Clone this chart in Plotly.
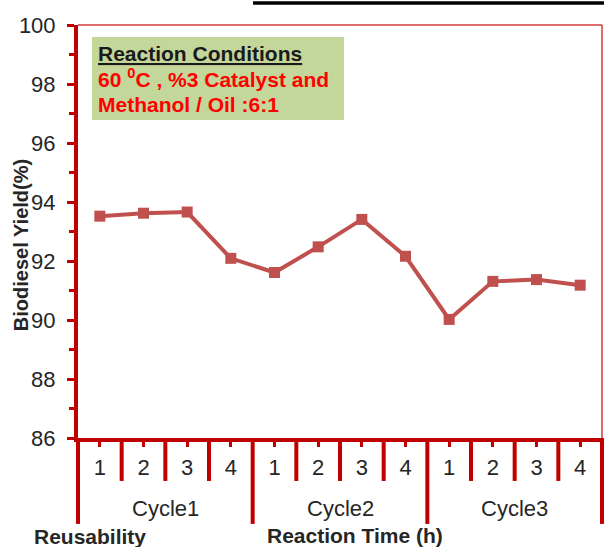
import plotly.graph_objects as go

# Data
cycles = ["Cycle1", "Cycle2", "Cycle3"]
hours = ["1", "2", "3", "4"]
yield_pct = [93.52, 93.62, 93.66, 92.09, 91.61, 92.48, 93.41, 92.16, 90.02, 91.31, 91.37, 91.18]

y_ticks = [86, 88, 90, 92, 94, 96, 98, 100]

AXIS_RED = "#C00000"
SERIES_RED = "#C0504D"
TEXT = "#262626"
FONT = "Liberation Sans, Arial, sans-serif"

n_hours = len(hours)
n_points = len(cycles) * n_hours
x_idx = list(range(n_points))
x_text = [hours[i % n_hours] for i in x_idx]

fig = go.Figure()

fig.add_trace(
    go.Scatter(
        x=x_idx,
        y=yield_pct,
        mode="lines+markers",
        line=dict(color=SERIES_RED, width=4),
        marker=dict(symbol="square", size=11, color=SERIES_RED),
        showlegend=False,
        hoverinfo="skip",
    )
)

# Divider lines under the x axis: short between hours, long between cycles
shapes = []
for b in range(n_points + 1):
    long_line = b % n_hours == 0
    shapes.append(
        dict(
            type="line",
            xref="x domain",
            yref="paper",
            x0=b / n_points,
            x1=b / n_points,
            y0=0,
            y1=-0.208 if long_line else -0.104,
            line=dict(color=AXIS_RED, width=4),
        )
    )

# thin top/right frame
shapes.append(dict(type="line", xref="paper", yref="paper", x0=0, x1=1, y0=1, y1=1,
                   line=dict(color="#D03A3A", width=1.5)))
shapes.append(dict(type="line", xref="paper", yref="paper", x0=1, x1=1, y0=0, y1=1,
                   line=dict(color="#D03A3A", width=1.5)))

# black rule at the top right
shapes.append(dict(type="line", xref="paper", yref="paper", x0=0.334, x1=1.01, y0=1.053, y1=1.053,
                   line=dict(color="black", width=3.5)))

# green conditions box
shapes.append(dict(type="rect", xref="paper", yref="paper", x0=0.0267, x1=0.5076, y0=0.77, y1=0.971,
                   fillcolor="#C4D79B", line=dict(width=0), layer="below"))

annotations = []
for k, c in enumerate(cycles):
    annotations.append(
        dict(
            text=c,
            x=k * n_hours + (n_hours - 1) / 2,
            xref="x",
            y=0,
            yref="paper",
            yanchor="middle",
            yshift=-70,
            showarrow=False,
            font=dict(family=FONT, size=22, color=TEXT),
        )
    )

annotations += [
    dict(text="<b>Reusability</b>", xref="paper", yref="paper", x=-0.088, y=0,
         xanchor="left", yanchor="middle", yshift=-98, showarrow=False,
         font=dict(family=FONT, size=21, color=TEXT)),
    dict(text="<b>Reaction Time (h)</b>", xref="paper", yref="paper", x=0.357, y=0,
         xanchor="left", yanchor="middle", yshift=-97, showarrow=False,
         font=dict(family=FONT, size=21, color=TEXT)),
    dict(text="<b>Biodiesel Yield(%)</b>", xref="paper", yref="paper", x=0, y=0.467,
         xanchor="center", yanchor="middle", xshift=-57, textangle=-90, showarrow=False,
         font=dict(family=FONT, size=20, color=TEXT)),
    dict(text="<b><u>Reaction Conditions</u></b>", xref="paper", yref="paper", x=0.034, y=0.932,
         xanchor="left", yanchor="middle", showarrow=False,
         font=dict(family=FONT, size=21, color="#1a1a1a")),
    dict(text="<b>60 <sup>0</sup>C , %3 Catalyst and</b>", xref="paper", yref="paper", x=0.034, y=0.871,
         xanchor="left", yanchor="middle", showarrow=False,
         font=dict(family=FONT, size=21, color="#FF0000")),
    dict(text="<b>Methanol / Oil :6:1</b>", xref="paper", yref="paper", x=0.034, y=0.808,
         xanchor="left", yanchor="middle", showarrow=False,
         font=dict(family=FONT, size=21, color="#FF0000")),
]

fig.update_layout(
    width=604,
    height=547,
    margin=dict(l=78, r=2, t=25, b=109),
    paper_bgcolor="white",
    plot_bgcolor="white",
    shapes=shapes,
    annotations=annotations,
    xaxis=dict(
        range=[-0.5, n_points - 0.5],
        tickvals=x_idx,
        ticktext=x_text,
        ticks="outside",
        ticklen=5,
        tickwidth=3,
        tickcolor=AXIS_RED,
        ticklabelstandoff=2,
        showline=True,
        linewidth=4,
        linecolor=AXIS_RED,
        showgrid=False,
        zeroline=False,
        tickfont=dict(family=FONT, size=22, color=TEXT),
    ),
    yaxis=dict(
        range=[y_ticks[0], y_ticks[-1]],
        tickvals=y_ticks,
        ticks="outside",
        ticklen=7,
        tickwidth=3,
        tickcolor=AXIS_RED,
        ticklabelstandoff=7,
        minor=dict(dtick=1, ticks="outside", ticklen=5, tickwidth=3, tickcolor=AXIS_RED),
        showline=True,
        linewidth=4,
        linecolor=AXIS_RED,
        showgrid=False,
        zeroline=False,
        tickfont=dict(family=FONT, size=22, color=TEXT),
    ),
)

# the page's default body margin would shift the figure by 8px
fig.write_html(
    "out.html",
    config={"displayModeBar": False},
    post_script="document.body.style.margin = '0';",
)
